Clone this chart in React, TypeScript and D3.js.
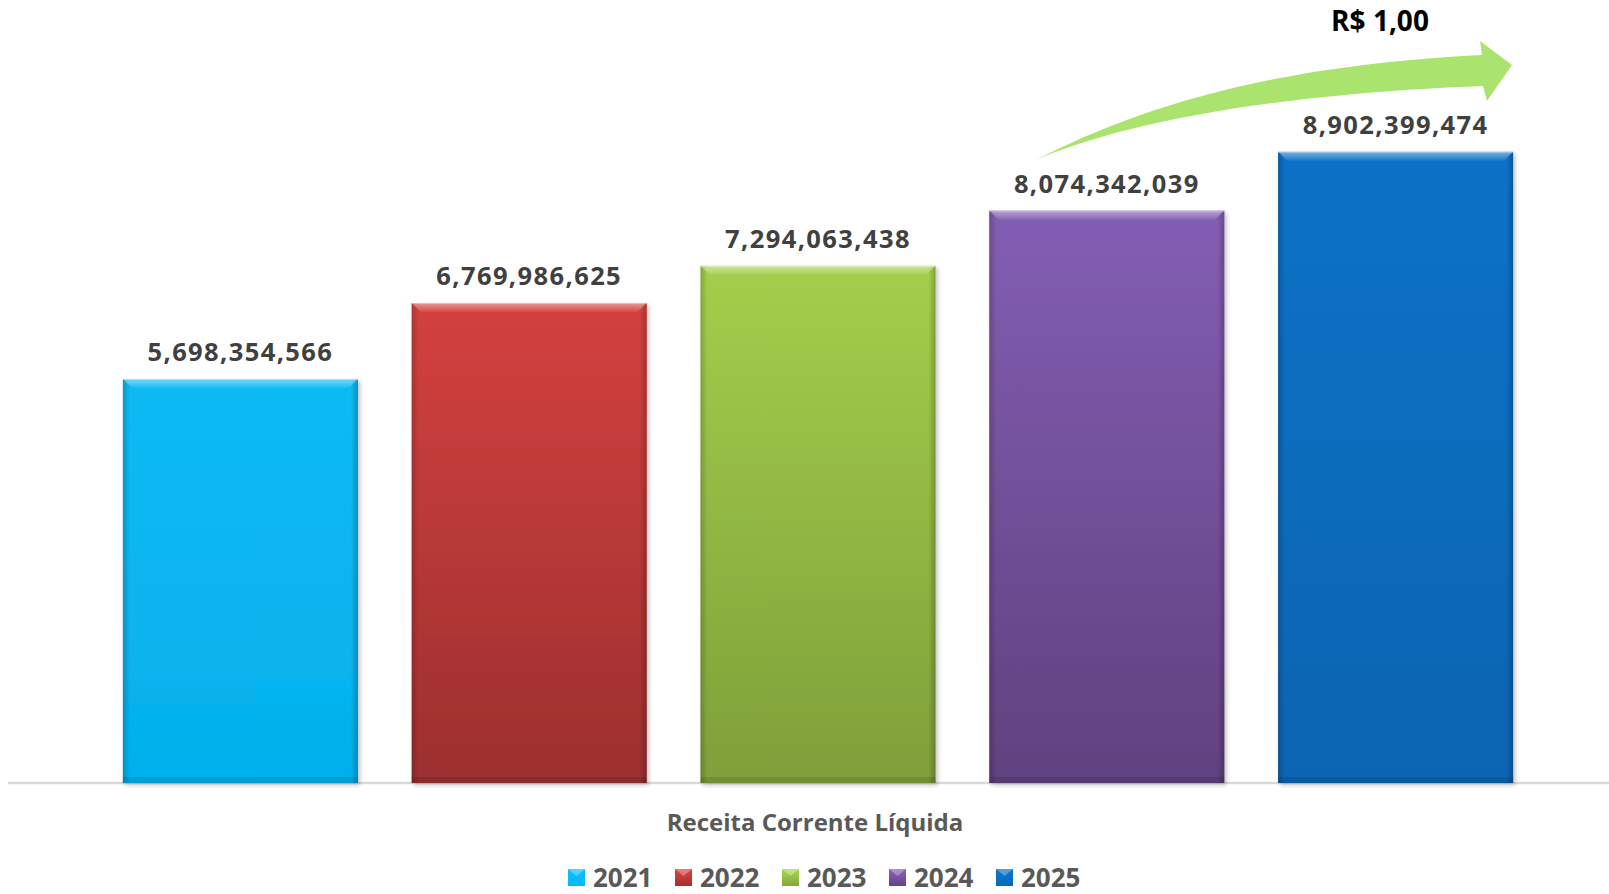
import * as d3 from 'd3'

const YEARS = ['2021', '2022', '2023', '2024', '2025']
const VALUES = [5698354566, 6769986625, 7294063438, 8074342039, 8902399474]
const BAR_COLORS: Record<string, [string, string]> = {
  '2021': ['#0fc2fe', '#04b7f5'],
  '2022': ['#dc4441', '#a33131'],
  '2023': ['#aad74f', '#84a63c'],
  '2024': ['#8862bb', '#644484'],
  '2025': ['#0b76ce', '#0869b9'],
}
const AXIS_TITLE = 'Receita Corrente Líquida'
const UNIT_LABEL = 'R$ 1,00'

const W = 1609
const H = 894
const FONT = '"Open Sans", "Noto Sans", sans-serif'

const fmt = d3.format(',')

export default function App() {
  const x = d3.scaleBand<string>()
    .domain(YEARS)
    .range([96, 1540])
    .paddingInner(0.186)
    .paddingOuter(0.093)
  const y = d3.scaleLinear().domain([0, 1e10]).range([783, 74])
  const bw = x.bandwidth()

  // curved arrow over the last two bars
  const arrow = d3.path()
  arrow.moveTo(1036, 160)
  arrow.bezierCurveTo(1130, 112, 1260, 66, 1482, 55)
  arrow.lineTo(1480, 41)
  arrow.lineTo(1512, 65)
  arrow.lineTo(1487, 101)
  arrow.lineTo(1483, 86)
  arrow.bezierCurveTo(1250, 95, 1110, 128, 1036, 160)
  arrow.closePath()

  const legendX = d3.scalePoint<string>().domain(YEARS).range([568, 996])

  return (
    <svg width={W} height={H} style={{ position: 'absolute', left: 0, top: 0, background: '#fff' }}>
      <defs>
        {YEARS.map(yr => (
          <linearGradient key={yr} id={`g${yr}`} x1="0" y1="0" x2="0" y2="1">
            <stop offset="0%" stopColor={BAR_COLORS[yr][0]} />
            <stop offset="100%" stopColor={BAR_COLORS[yr][1]} />
          </linearGradient>
        ))}
        <linearGradient id="side" x1="0" y1="0" x2="1" y2="0">
          <stop offset="0%" stopColor="#000" stopOpacity={0.22} />
          <stop offset="3%" stopColor="#000" stopOpacity={0.04} />
          <stop offset="97%" stopColor="#000" stopOpacity={0.04} />
          <stop offset="100%" stopColor="#000" stopOpacity={0.25} />
        </linearGradient>
        <linearGradient id="topHi" x1="0" y1="0" x2="0" y2="1">
          <stop offset="0%" stopColor="#fff" stopOpacity={0.45} />
          <stop offset="100%" stopColor="#fff" stopOpacity={0.05} />
        </linearGradient>
        <filter id="shadow" x="-5%" y="-5%" width="115%" height="115%">
          <feDropShadow dx={2} dy={2} stdDeviation={2} floodColor="#000" floodOpacity={0.25} />
        </filter>
      </defs>

      {/* baseline */}
      <line x1={8} x2={W} y1={783} y2={783} stroke="#d9d9d9" strokeWidth={2.5} />

      {YEARS.map((yr, i) => {
        const x0 = x(yr) as number
        const top = y(VALUES[i])
        const h = y(0) - top
        const b = 9
        return (
          <g key={yr}>
            <rect x={x0} y={top} width={bw} height={h} fill={`url(#g${yr})`} filter="url(#shadow)" />
            <rect x={x0} y={top} width={bw} height={h} fill="url(#side)" />
            <path
              d={`M${x0},${top}L${x0 + bw},${top}L${x0 + bw - b},${top + b}L${x0 + b},${top + b}Z`}
              fill="url(#topHi)"
            />
            <line x1={x0} x2={x0 + bw} y1={top + 0.5} y2={top + 0.5} stroke="#fff" strokeOpacity={0.35} />
            <rect x={x0} y={y(0) - 6} width={bw} height={6} fill="#000" fillOpacity={0.1} />
            <text
              x={x0 + bw / 2}
              y={top - 18}
              textAnchor="middle"
              fontFamily={FONT}
              fontWeight={700}
              fontSize={25.5}
              letterSpacing={1.4}
              fill="#404040"
            >
              {fmt(VALUES[i])}
            </text>
          </g>
        )
      })}

      <path d={arrow.toString()} fill="#aae46f" />
      <text x={1380} y={31} textAnchor="middle" fontFamily={FONT} fontWeight={700} fontSize={28} fill="#000">
        {UNIT_LABEL}
      </text>

      <text x={815} y={831} textAnchor="middle" fontFamily={FONT} fontWeight={700} fontSize={24} fill="#595959">
        {AXIS_TITLE}
      </text>

      {YEARS.map(yr => {
        const lx = legendX(yr) as number
        return (
          <g key={yr}>
            <rect x={lx} y={869} width={17} height={17} fill={`url(#g${yr})`} />
            <path d={`M${lx},${869}L${lx + 17},${869}L${lx + 8.5},${876}Z`} fill="#fff" fillOpacity={0.3} />
            <text x={lx + 25} y={887} fontFamily={FONT} fontWeight={700} fontSize={26} fill="#595959">
              {yr}
            </text>
          </g>
        )
      })}
    </svg>
  )
}
